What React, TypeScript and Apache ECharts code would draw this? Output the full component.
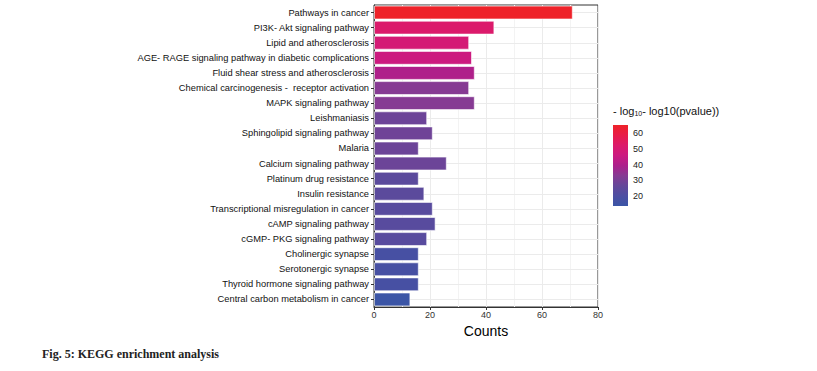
import React, { useEffect, useRef } from "react";
import * as echarts from "echarts";

const categories = [
  "Pathways in cancer",
  "PI3K- Akt signaling pathway",
  "Lipid and atherosclerosis",
  "AGE- RAGE signaling pathway in diabetic complications",
  "Fluid shear stress and atherosclerosis",
  "Chemical carcinogenesis -  receptor activation",
  "MAPK signaling pathway",
  "Leishmaniasis",
  "Sphingolipid signaling pathway",
  "Malaria",
  "Calcium signaling pathway",
  "Platinum drug resistance",
  "Insulin resistance",
  "Transcriptional misregulation in cancer",
  "cAMP signaling pathway",
  "cGMP- PKG signaling pathway",
  "Cholinergic synapse",
  "Serotonergic synapse",
  "Thyroid hormone signaling pathway",
  "Central carbon metabolism in cancer",
];
const counts = [71, 43, 34, 35, 36, 34, 36, 19, 21, 16, 26, 16, 18, 21, 22, 19, 16, 16, 16, 13];
const scores = [65, 52, 49, 46, 40, 33, 33, 28, 28.5, 28, 28, 24, 24, 23, 23, 23, 18, 18, 18, 14];
const colorTicks = [20, 30, 40, 50, 60];
const scoreMin = 13.6;
const scoreMax = 65.2;
const palette = ["#3a55a6", "#4d4ea2", "#644799", "#863a93", "#ac208b", "#cc1a80", "#dc1a6a", "#e81c48", "#ee2228"];

export default function App() {
  const ref = useRef<HTMLDivElement>(null);
  useEffect(() => {
    if (!ref.current) return;
    const chart = echarts.init(ref.current, undefined, { renderer: "svg" });
    const font = "Liberation Sans, Arial, sans-serif";
    const gradStops = palette.map((c, i) => ({ offset: i / (palette.length - 1), color: c }));
    chart.setOption({
      animation: false,
      backgroundColor: "#ffffff",
      grid: [
        { left: 374, top: 5, width: 224, height: 302, show: true, borderColor: "#333333", borderWidth: 1, backgroundColor: "transparent" },
        { left: 613, top: 125, width: 15, height: 81 },
      ],
      visualMap: {
        show: false,
        type: "continuous",
        seriesIndex: 0,
        dimension: 2,
        min: scoreMin,
        max: scoreMax,
        inRange: { color: palette },
      },
      xAxis: [
        {
          gridIndex: 0,
          type: "value",
          min: 0,
          max: 80,
          interval: 20,
          name: "Counts",
          nameLocation: "middle",
          nameGap: 6,
          nameTextStyle: { fontFamily: font, fontSize: 14, color: "#000" },
          axisLine: { show: true, lineStyle: { color: "#333333" } },
          axisTick: { show: true, length: 3, lineStyle: { color: "#333333" } },
          axisLabel: { fontFamily: font, fontSize: 9, color: "#333", margin: 3 },
          splitLine: { show: true, lineStyle: { color: "#ebebeb", width: 1 } },
          minorTick: { show: false, splitNumber: 2 },
          minorSplitLine: { show: true, lineStyle: { color: "#f3f3f3", width: 1 } },
        },
        { gridIndex: 1, type: "category", data: ["c"], show: false },
      ],
      yAxis: [
        {
          gridIndex: 0,
          type: "category",
          data: categories,
          inverse: true,
          axisLine: { show: true, lineStyle: { color: "#333333" } },
          axisTick: { show: true, length: 3, alignWithLabel: true, lineStyle: { color: "#333333" } },
          axisLabel: { fontFamily: font, fontSize: 9.3, color: "#111", margin: 5 },
          splitLine: { show: false },
        },
        {
          gridIndex: 1,
          type: "value",
          min: scoreMin,
          max: scoreMax,
          position: "right",
          axisLine: { show: false },
          axisTick: { show: true, inside: true, length: 3, customValues: colorTicks, lineStyle: { color: "#ffffff", width: 1 } },
          axisLabel: { show: true, customValues: colorTicks, fontFamily: font, fontSize: 9, color: "#222", margin: 5 },
          splitLine: { show: false },
        },
        {
          gridIndex: 1,
          type: "value",
          min: scoreMin,
          max: scoreMax,
          position: "left",
          axisLine: { show: false },
          axisTick: { show: true, inside: true, length: 3, customValues: colorTicks, lineStyle: { color: "#ffffff", width: 1 } },
          axisLabel: { show: false },
          splitLine: { show: false },
        },
      ],
      series: [
        {
          type: "bar",
          xAxisIndex: 0,
          yAxisIndex: 0,
          z: 3,
          barWidth: "92%",
          encode: { x: 0, y: 1 },
          data: categories.map((c, i) => [counts[i], c, scores[i]]),
          itemStyle: { borderColor: "rgba(255,255,255,0.6)", borderWidth: 1 },
        },
        {
          type: "line",
          xAxisIndex: 0,
          yAxisIndex: 0,
          z: 1,
          data: [],
          markLine: {
            z: 1,
            silent: true,
            symbol: "none",
            label: { show: false },
            lineStyle: { color: "#ebebeb", width: 1, type: "solid" },
            data: categories.map((c) => ({ yAxis: c })),
          },
        },
        {
          type: "bar",
          xAxisIndex: 1,
          yAxisIndex: 1,
          z: 1,
          barWidth: "100%",
          data: [scoreMax],
          itemStyle: {
            color: new echarts.graphic.LinearGradient(0, 1, 0, 0, gradStops),
          },
        },
      ],
      graphic: [
        {
          type: "text",
          left: 613,
          top: 105,
          style: {
            text: "{a|- log}{s|10}{a|- log10(pvalue))}",
            rich: {
              a: { fontFamily: font, fontSize: 11, fill: "#111" },
              s: { fontFamily: font, fontSize: 7, fill: "#111", padding: [5, 0, 0, 0] },
            },
          },
        },
        {
          type: "text",
          left: 42,
          top: 348,
          style: {
            text: "Fig. 5: KEGG enrichment analysis",
            fontFamily: "Liberation Serif, Times New Roman, serif",
            fontWeight: "bold",
            fontSize: 12,
            fill: "#222",
          },
        },
      ],
    });
    return () => chart.dispose();
  }, []);
  return (
    <div
      ref={ref}
      style={{ position: "absolute", left: 0, top: 0, width: 817, height: 371, background: "#fff" }}
    />
  );
}
